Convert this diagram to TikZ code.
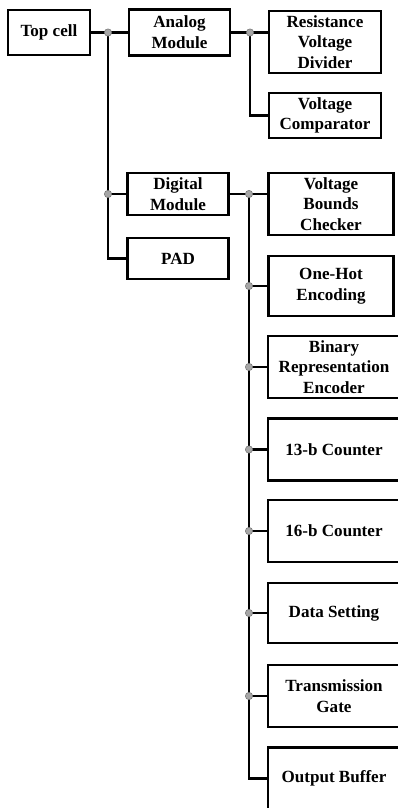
\documentclass[tikz,border=0pt]{standalone}
\usepackage{fontspec}
\setmainfont{Liberation Serif}
\usepackage{tikz}
\usetikzlibrary{positioning,calc}

\begin{document}
\begin{tikzpicture}[
  x=0.75pt, y=-0.75pt,
  box/.style={draw, line width=1.7pt, fill=white, align=center, inner sep=2pt,
    font=\fontsize{12.8}{15.5}\selectfont\bfseries},
  small/.style={box, minimum width=75.75pt},
  leaf/.style={box, minimum width=84pt, minimum height=46.5pt},
  dleaf/.style={box, minimum width=99pt, minimum height=46.5pt},
  junc/.style={circle, fill=gray!70, draw=gray!90!black, line width=0.4pt, inner sep=0pt, minimum size=5.5pt},
  wire/.style={line width=1.6pt}
]
\useasboundingbox (0,0) rectangle (398,808);
\clip (0,0) rectangle (398,808);

% Top cell
\node[box, minimum width=61.5pt, minimum height=33.75pt] (top) at (49,32.5) {Top cell};

% Second level
\node[small, minimum height=34.5pt] (analog) at (179.5,32.5) {Analog\\Module};
\node[small, minimum height=31.5pt] (digital) at (178,194) {Digital\\Module};
\node[small, minimum height=30.75pt] (pad) at (178,258.5) {PAD};

% Analog blocks
\node[leaf] (rvd) at (325,42) {Resistance\\Voltage\\Divider};
\node[leaf, minimum height=33.75pt] (vc) at (325,115.5) {Voltage\\Comparator};

% Digital blocks
\node[dleaf, minimum width=93.75pt] (vbc) at (331,204) {Voltage\\Bounds\\Checker};
\node[dleaf, minimum width=93.75pt, minimum height=45pt] (hot) at (331,286) {One-Hot\\Encoding};
\node[dleaf] (bin) at (334,367) {Binary\\Representation\\Encoder};
\node[dleaf] (cnt13) at (334,449.5) {13-b Counter};
\node[dleaf] (cnt16) at (334,531) {16-b Counter};
\node[dleaf, minimum height=45pt] (data) at (334,613) {Data Setting};
\node[dleaf] (tg) at (334,696) {Transmission\\Gate};
\node[dleaf] (buf) at (334,778.5) {Output Buffer};

% Junctions
\coordinate (jt) at (108,32.5);
\coordinate (ja) at (250,32.5);
\coordinate (jd) at (249,194);

% Top level wires
\draw[wire] (top.east) -- (analog.west);
\draw[wire] (jt) |- (pad.west);
\draw[wire] (jt |- digital.west) -- (digital.west);

% Analog wires
\draw[wire] (analog.east) -- (analog.east -| rvd.west);
\draw[wire] (ja) |- (vc.west);

% Digital wires
\draw[wire] (digital.east) -- (digital.east -| vbc.west);
\draw[wire] (jd) |- (buf.west);
\foreach \blk in {hot,bin,cnt13,cnt16,data,tg}
  \draw[wire] (jd |- \blk.west) -- (\blk.west);

% Dots
\node[junc] at (jt) {};
\node[junc] at (jt |- digital.west) {};
\node[junc] at (ja) {};
\node[junc] at (jd) {};
\foreach \blk in {hot,bin,cnt13,cnt16,data,tg}
  \node[junc] at (jd |- \blk.west) {};
\end{tikzpicture}
\end{document}
